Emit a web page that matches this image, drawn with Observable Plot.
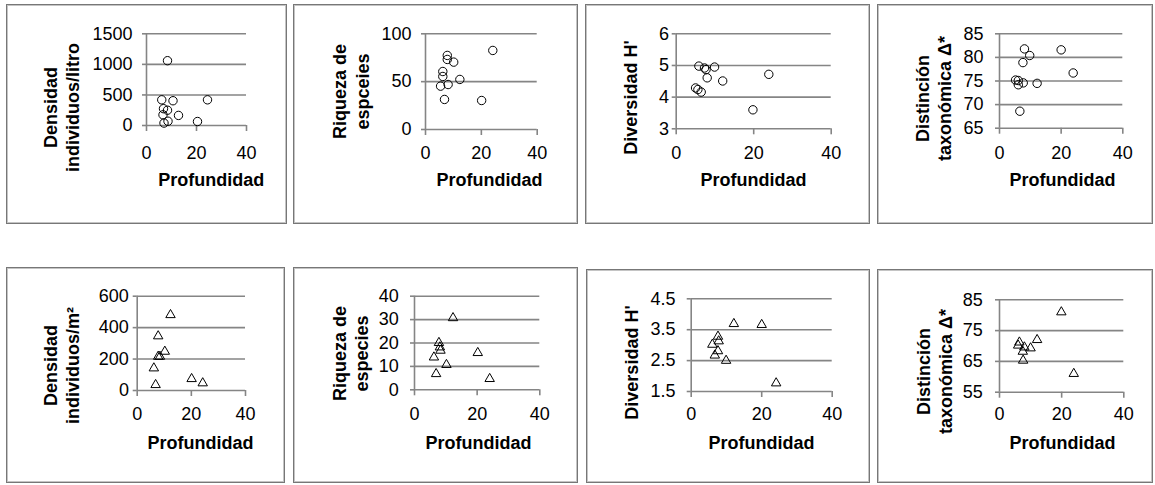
<!DOCTYPE html>
<html>
<head>
<meta charset="utf-8">
<script src="https://cdn.jsdelivr.net/npm/d3@7"></script>
<script src="https://cdn.jsdelivr.net/npm/@observablehq/plot@0.6"></script>
<style>
  html, body { margin: 0; padding: 0; background: #fff; }
  #root { position: relative; width: 1155px; height: 485px; overflow: hidden; font-family: "Liberation Sans", Arial, sans-serif; }
  .box { position: absolute; box-sizing: border-box; border: 1px solid #777; box-shadow: inset 0 0 0 1px #c4c4c4; }
</style>
</head>
<body>
<div id="root"></div>
<script>
// ---------- data ----------
const xTicks = [0, 20, 40];
const xLabel = "Profundidad";

// Top row (circles)
const depthDensLitro = [8.4, 6.1, 10.6, 24.4, 6.8, 8.4, 6.6, 12.8, 8.6, 7.0, 20.4];
const densLitro      = [1060, 420, 405, 420, 275, 250, 175, 165, 70, 40, 65];
const ticksDensLitro = [0, 500, 1000, 1500];

const depthRiqTop = [24.1, 7.8, 7.8, 10.1, 6.2, 6.2, 12.3, 5.4, 8.1, 6.8, 20.1];
const riqTop      = [82.6, 77.4, 73.2, 70.4, 60.6, 55.4, 52.3, 45.3, 47, 31.4, 30.3];
const ticksRiqTop = [0, 50, 100];

const depthDivTop = [5.85, 7.3, 7.7, 9.9, 8.0, 12.0, 23.9, 5.0, 5.6, 6.45, 19.8];
const divTop      = [4.98, 4.92, 4.87, 4.95, 4.61, 4.51, 4.72, 4.29, 4.24, 4.16, 3.6];
const ticksDivTop = [3, 4, 5, 6];

const depthDistTop = [8.1, 20, 9.8, 7.6, 23.9, 5.2, 6.1, 7.7, 6.1, 12.2, 6.6];
const distTop      = [81.8, 81.6, 80.4, 78.9, 76.7, 75.2, 75.1, 74.6, 74.2, 74.5, 68.6];
const ticksDistTop = [65, 70, 75, 80, 85];

// Bottom row (triangles)
const depthDensM2 = [12.3, 7.75, 10.2, 7.75, 8.4, 6.15, 6.8, 20.1, 24.2];
const densM2      = [481, 346, 248, 216, 216, 142, 36, 74, 47];
const ticksDensM2 = [0, 200, 400, 600];

const depthRiqBot = [12.3, 7.8, 8.1, 8.3, 6.2, 10.2, 6.9, 20.2, 24.0];
const riqBot      = [30.7, 20.1, 18.2, 16.8, 13.9, 10.7, 6.8, 15.8, 4.7];
const ticksRiqBot = [0, 10, 20, 30, 40];

const depthDivBot = [12.1, 20.0, 7.6, 7.8, 6.0, 7.6, 6.7, 9.9, 24.1];
const divBot      = [3.69, 3.66, 3.28, 3.13, 3.02, 2.81, 2.67, 2.5, 1.77];
const ticksDivBot = [1.5, 2.5, 3.5, 4.5];

const depthDistBot = [19.9, 12.1, 6.4, 6.0, 8.0, 10.0, 7.5, 7.6, 23.9];
const distBot      = [81.0, 72.0, 71.2, 70.2, 69.6, 69.3, 68.2, 65.3, 61.0];
const ticksDistBot = [55, 65, 75, 85];

const yLabels = [
  "Densidad\nindividuos/litro",
  "Riqueza de\nespceies",
  "Diversidad H'",
  "Distinción\ntaxonómica Δ*",
  "Densidad\nindividuos/m²",
  "Riqueza de\nespecies",
  "Diversidad H'",
  "Distinción\ntaxonómica Δ*"
];

const series = [
  {xs: depthDensLitro, ys: densLitro, ticks: ticksDensLitro, symbol: "circle"},
  {xs: depthRiqTop,    ys: riqTop,    ticks: ticksRiqTop,    symbol: "circle"},
  {xs: depthDivTop,    ys: divTop,    ticks: ticksDivTop,    symbol: "circle"},
  {xs: depthDistTop,   ys: distTop,   ticks: ticksDistTop,   symbol: "circle"},
  {xs: depthDensM2,    ys: densM2,    ticks: ticksDensM2,    symbol: "triangle"},
  {xs: depthRiqBot,    ys: riqBot,    ticks: ticksRiqBot,    symbol: "triangle"},
  {xs: depthDivBot,    ys: divBot,    ticks: ticksDivBot,    symbol: "triangle"},
  {xs: depthDistBot,   ys: distBot,   ticks: ticksDistBot,   symbol: "triangle"}
];

// ---------- layout (page pixels) ----------
const layouts = [
  {box: [6, 4, 281, 220],   fx: [146, 246],     fy: [33.3, 125],   yGap: 14,   xPad: 14.6, yl: [60.25, 107], xl: [210.8, 180]},
  {box: [293, 4, 285, 220], fx: [425, 536.7],   fy: [33.3, 129],   yGap: 14,   xPad: 10.6, yl: [350, 91],    xl: [489, 180]},
  {box: [585, 4, 285, 220], fx: [675.7, 830.7], fy: [33.3, 128.3], yGap: 7.3,  xPad: 11.3, yl: [629, 97],    xl: [753, 180]},
  {box: [877, 4, 276, 220], fx: [999, 1122.3],  fy: [33.3, 127.7], yGap: 16,   xPad: 11.9, yl: [932.5, 98],  xl: [1062, 180]},
  {box: [6, 267, 279, 216], fx: [136.7, 245],   fy: [295.7, 390],  yGap: 8.3,  xPad: 11.2, yl: [60.5, 365],  xl: [200, 443]},
  {box: [293, 267, 285, 216], fx: [414, 539.3], fy: [295.7, 389.3], yGap: 15.7, xPad: 11.9, yl: [349.5, 353], xl: [478, 443]},
  {box: [586, 269, 284, 214], fx: [690.7, 831.7], fy: [298.3, 391], yGap: 15.7, xPad: 10.2, yl: [630, 362],  xl: [761, 443]},
  {box: [877, 269, 276, 214], fx: [999, 1123.3], fy: [299.3, 391.7], yGap: 16.7, xPad: 9.5, yl: [933.5, 371], xl: [1062, 443]}
];

const GRID = "#858585";
const root = document.getElementById("root");

series.forEach((s, i) => {
  const L = layouts[i];
  const [bx, by, bw, bh] = L.box;
  const frame = document.createElement("div");
  frame.className = "box";
  Object.assign(frame.style, {left: bx + "px", top: by + "px", width: bw + "px", height: bh + "px"});
  root.appendChild(frame);

  const data = s.xs.map((x, k) => ({x, y: s.ys[k]}));
  const yDom = [s.ticks[0], s.ticks[s.ticks.length - 1]];
  const yTickSize = 4, xTickSize = 6;

  const svg = Plot.plot({
    width: bw,
    height: bh,
    marginLeft: L.fx[0] - bx,
    marginRight: bx + bw - L.fx[1],
    marginTop: L.fy[0] - by,
    marginBottom: by + bh - L.fy[1],
    x: {domain: [0, 40]},
    y: {domain: yDom},
    style: {fontFamily: "'Liberation Sans', Arial, sans-serif", fontSize: "18px", color: "black", background: "transparent", overflow: "visible"},
    marks: [
      Plot.ruleY(s.ticks, {stroke: GRID, strokeWidth: 1.6}),
      Plot.ruleX([0], {stroke: GRID, strokeWidth: 1.6}),
      Plot.axisY(s.ticks, {tickSize: yTickSize, tickPadding: L.yGap - yTickSize, stroke: GRID, strokeWidth: 1.6, fill: "black", tickFormat: d => String(d), label: null}),
      Plot.axisX(xTicks, {tickSize: xTickSize, tickPadding: L.xPad, stroke: GRID, strokeWidth: 1.6, fill: "black", tickFormat: d => String(d), label: null}),
      Plot.dot(data, {x: "x", y: "y", symbol: () => s.symbol, r: s.symbol === "circle" ? 4.2 : 3.5, stroke: "black", strokeWidth: 1, fill: "none"}),
      Plot.text([yLabels[i]], {text: d => d, frameAnchor: "top-left", dx: L.yl[0] - L.fx[0], dy: L.yl[1] - L.fy[0], rotate: -90, textAnchor: "middle", lineAnchor: "middle", lineHeight: 1.25, fontWeight: "bold", fontSize: 18, fill: "black"}),
      Plot.text([xLabel], {text: d => d, frameAnchor: "top-left", dx: L.xl[0] - L.fx[0], dy: L.xl[1] - L.fy[0], textAnchor: "middle", lineAnchor: "middle", fontWeight: "bold", fontSize: 18, fill: "black"})
    ]
  });
  svg.style.position = "absolute";
  svg.style.left = bx + "px";
  svg.style.top = by + "px";
  root.appendChild(svg);
});
</script>
</body>
</html>
